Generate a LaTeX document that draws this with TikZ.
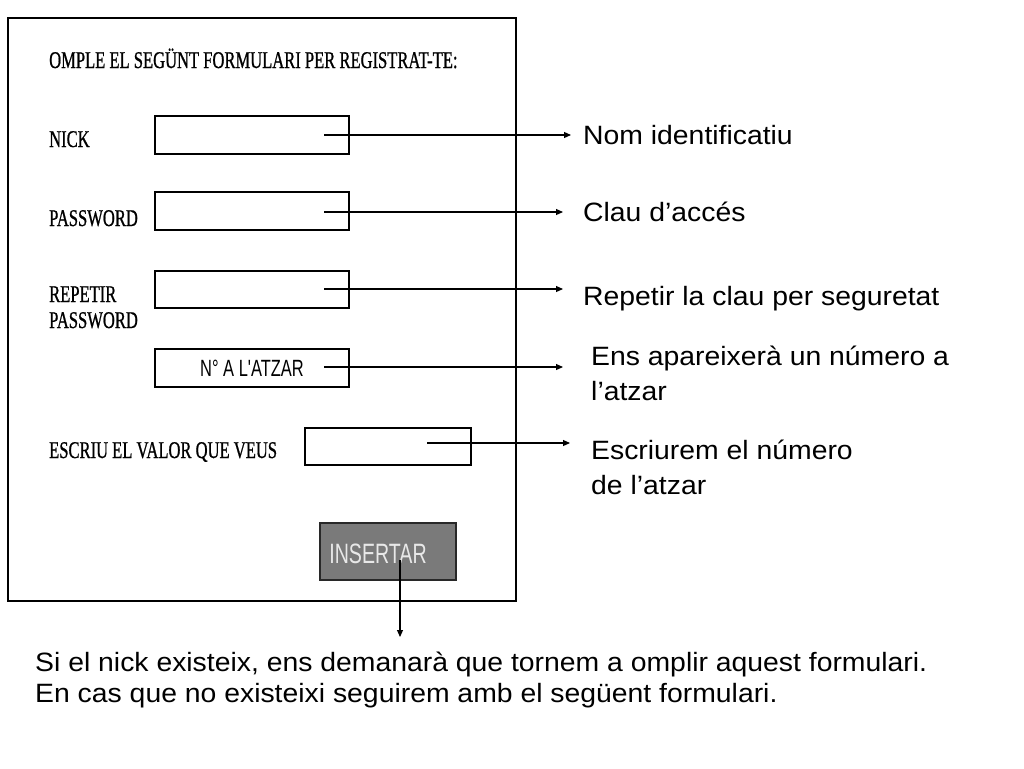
\documentclass[tikz,border=0pt]{standalone}
\usepackage{fontspec}
\setmainfont{Liberation Sans}
\newfontfamily\pixfont[FakeStretch=0.69,FakeBold=0.8]{Liberation Serif}
\newfontfamily\btnfont[FakeStretch=0.7]{Liberation Sans}
\newfontfamily\notefont[FakeStretch=1.07]{Liberation Sans}
\usetikzlibrary{arrows.meta}
\begin{document}
\begin{tikzpicture}[x=1pt,y=-1pt,
  formlabel/.style={font=\pixfont\fontsize{24}{26}\selectfont, anchor=base west, inner sep=0},
  field/.style={draw=black, line width=2pt, fill=white, inner sep=0},
  note/.style={font=\notefont\fontsize{26.5}{35}\selectfont, anchor=base west, inner sep=0, align=left},
  conn/.style={line width=1.1pt, -{Triangle[length=7pt,width=6pt]}},
]
\useasboundingbox (0,0) rectangle (1024,768);
% form frame
\draw[line width=2pt] (8,18) rectangle (516,601);
\node[formlabel] (title) at (49,68) {OMPLE EL SEGÜNT FORMULARI PER REGISTRAT-TE:};
\node[formlabel] (lnick) at (49,147) {NICK};
\node[formlabel] (lpass) at (49,226) {PASSWORD};
\node[formlabel, align=left] (lrep) at (49,328) {REPETIR\\[0pt]PASSWORD};
\node[formlabel] (lval) at (49,458) {ESCRIU EL VALOR QUE VEUS};
% fields
\node[field, minimum width=194, minimum height=38] (fnick) at (252,135) {};
\node[field, minimum width=194, minimum height=38] (fpass) at (252,211) {};
\node[field, minimum width=194, minimum height=37] (frep) at (252,289.5) {};
\node[field, minimum width=194, minimum height=38, font=\btnfont\fontsize{23.5}{26}\selectfont] (fatz) at (252,368) {N° A L'ATZAR};
\node[field, minimum width=166, minimum height=37] (fval) at (388,446.5) {};
\node[draw={rgb,255:red,40;green,40;blue,40}, line width=2pt, fill={rgb,255:red,122;green,122;blue,122}, minimum width=136, minimum height=57, inner sep=0] (btn) at (388,551.5) {};
\node[font=\btnfont\fontsize{28}{30}\selectfont, text={rgb,255:red,232;green,232;blue,232}, anchor=base, inner sep=0] (btntext) at (378,563) {INSERTAR};
% connector coordinates
\coordinate (s1) at (324,135);
\coordinate (e1) at (571,135);
\coordinate (s2) at (324,212);
\coordinate (e2) at (563,212);
\coordinate (s3) at (324,289);
\coordinate (e3) at (563,289);
\coordinate (s4) at (324,367);
\coordinate (e4) at (563,367);
\coordinate (s5) at (427,443);
\coordinate (e5) at (570,443);
\coordinate (s6) at (400,560);
\coordinate (e6) at (400,637);
% notes
\node[note] (t1) at (583,144) {Nom identificatiu};
\node[note] (t2) at (583,221) {Clau d’accés};
\node[note] (t3) at (583,305) {Repetir la clau per seguretat};
\node[note] (t4) at (591,400) {Ens apareixerà un número a\\l’atzar};
\node[note] (t5) at (591,494) {Escriurem el número\\de l’atzar};
\node[note, font=\notefont\fontsize{26.5}{31}\selectfont] (t6) at (35,702) {Si el nick existeix, ens demanarà que tornem a omplir aquest formulari.\\En cas que no existeixi seguirem amb el següent formulari.};
% connectors
\draw[conn] (s1) -- (e1);
\draw[conn] (s2) -- (e2);
\draw[conn] (s3) -- (e3);
\draw[conn] (s4) -- (e4);
\draw[conn] (s5) -- (e5);
\draw[conn] (s6) -- (e6);
\end{tikzpicture}
\end{document}
